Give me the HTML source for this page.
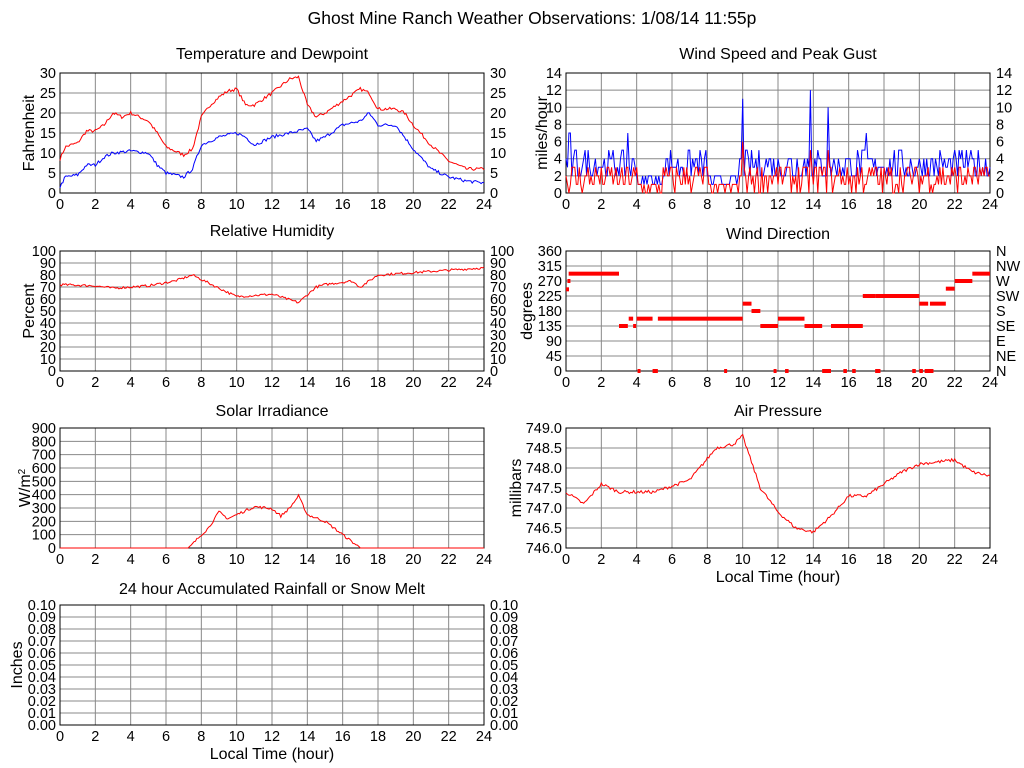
<!DOCTYPE html>
<html><head><meta charset="utf-8"><style>
body{margin:0;background:#fff}
svg{display:block;font-family:"Liberation Sans",sans-serif;font-size:14.5px}
.b{font-size:16px}
</style></head><body>
<svg id="s" width="1024" height="768" xmlns="http://www.w3.org/2000/svg">
<rect width="1024" height="768" fill="#fff"/>
<g id="g"></g>
<g fill="#000" class="b">
<text x="532" y="24" text-anchor="middle" font-size="17.5">Ghost Mine Ranch Weather Observations: 1/08/14 11:55p</text>
<text x="272" y="59" text-anchor="middle">Temperature and Dewpoint</text>
<text x="778" y="59" text-anchor="middle">Wind Speed and Peak Gust</text>
<text x="272" y="236" text-anchor="middle">Relative Humidity</text>
<text x="778" y="239" text-anchor="middle">Wind Direction</text>
<text x="272" y="416" text-anchor="middle">Solar Irradiance</text>
<text x="778" y="416" text-anchor="middle">Air Pressure</text>
<text x="272" y="594" text-anchor="middle">24 hour Accumulated Rainfall or Snow Melt</text>
<text x="778" y="582" text-anchor="middle">Local Time (hour)</text>
<text x="272" y="759" text-anchor="middle">Local Time (hour)</text>
<text transform="translate(34,133) rotate(-90)" text-anchor="middle">Fahrenheit</text>
<text transform="translate(547,133) rotate(-90)" text-anchor="middle">miles/hour</text>
<text transform="translate(34,311) rotate(-90)" text-anchor="middle">Percent</text>
<text transform="translate(532,311) rotate(-90)" text-anchor="middle">degrees</text>
<text transform="translate(30,488) rotate(-90)" text-anchor="middle">W/m<tspan font-size="10" dy="-5">2</tspan></text>
<text transform="translate(521,488) rotate(-90)" text-anchor="middle">millibars</text>
<text transform="translate(22,665) rotate(-90)" text-anchor="middle">Inches</text>
</g>
<g id="t" fill="#000"></g>
</svg>
<script>
var NS="http://www.w3.org/2000/svg",G=document.getElementById('g'),T=document.getElementById('t');
function el(tag,a,p){var e=document.createElementNS(NS,tag);for(var k in a)e.setAttribute(k,a[k]);(p||G).appendChild(e);return e;}
var seed=7;function rnd(){seed=(seed*16807)%2147483647;return seed/2147483647;}
function panel(x0,y0,ny,xl,labsL,labsR){
 var x1=x0+424,y1=y0+120;
 for(var i=1;i<12;i++){var x=x0+i*424/12;el('line',{x1:x,y1:y0,x2:x,y2:y1,stroke:'#888'});}
 for(var j=1;j<ny;j++){var y=y0+j*120/ny;el('line',{x1:x0,y1:y,x2:x1,y2:y,stroke:'#888'});}
 el('rect',{x:x0,y:y0,width:424,height:120,fill:'none',stroke:'#000'});
 for(var i=0;i<=12;i++){var t=el('text',{x:x0+i*424/12,y:y1+16,'text-anchor':'middle'},T);t.textContent=2*i;}
 for(var j=0;j<=ny;j++){var y=y1-j*120/ny+5;
  if(labsL){var t=el('text',{x:x0-4,y:y,'text-anchor':'end'},T);t.textContent=labsL[j];}
  if(labsR){var t=el('text',{x:x1+6,y:y},T);t.textContent=labsR[j];}}
}
function seq(n,f){var a=[];for(var i=0;i<=n;i++)a.push(f(i));return a;}
var tl=seq(6,function(i){return 5*i}),hl=seq(10,function(i){return 10*i}),sl=seq(9,function(i){return 100*i}),
 wl=seq(7,function(i){return 2*i}),dl=seq(8,function(i){return 45*i}),pl=seq(6,function(i){return (746+0.5*i).toFixed(1)}),
 rl=seq(10,function(i){return (0.01*i).toFixed(2)});
panel(60,73,6,0,tl,tl);panel(566,73,7,0,wl,wl);
panel(60,251,10,0,hl,hl);panel(566,251,8,0,dl,['N','NE','E','SE','S','SW','W','NW','N']);
panel(60,428,9,0,sl,null);panel(566,428,6,0,pl,null);
panel(60,605,10,0,rl,rl);
function interp(k,h){for(var i=1;i<k.length;i++)if(h<=k[i][0]){var a=k[i-1],b=k[i];return a[1]+(b[1]-a[1])*(h-a[0])/(b[0]-a[0]);}return k[k.length-1][1];}
function series(k,x0,y0,min,max,col,noise,clip){var pts=[];for(var i=0;i<=288;i++){var h=i/12,b=interp(k,h),v=b+(clip&&b<=0?0:(rnd()-0.5)*noise);if(clip)v=Math.max(v,min);
 pts.push((x0+h*424/24).toFixed(1)+','+(y0+120-(v-min)/(max-min)*120).toFixed(1));}
 el('polyline',{points:pts.join(' '),fill:'none',stroke:col,'stroke-width':1});}
series([[0,8.5],[0.3,11.5],[0.6,12],[1,12.5],[1.5,15.5],[2,15.5],[2.5,17],[3,20],[3.5,19],[4,20],[4.5,19],[5,18],[5.5,15],[6,11.5],[6.5,10.5],[7,9.5],[7.5,11],[8,19],[8.5,22],[9,24],[9.5,25.5],[10,26],[10.5,22],[11,22],[12,25],[13,28.5],[13.5,29],[14,22],[14.5,19],[15,20],[16,23],[17,26],[17.5,25],[18,21],[19,21],[19.5,20],[20,17],[21,12],[22,8],[23,6],[24,6]],60,73,0,30,'red',0.8);
series([[0,1.5],[0.3,4],[1,4.5],[1.5,7],[2,7],[2.5,9],[3,10],[4,10.5],[5,10],[5.5,7],[6,5],[7,4],[7.5,6],[8,12],[9,14],[10,15],[10.5,14],[11,12],[12,14],[13,15],[14,16],[14.5,13],[15,14],[16,17],[17,18],[17.5,20],[18,17],[19,17],[20,11],[21,6],[22,4],[23,3],[24,2.5]],60,73,0,30,'blue',0.8);
series([[0,72],[2,71],[3,69],[5,71],[6.5,75],[7.5,80],[9,69],[10,62],[12,64],[13.5,57],[14.5,70],[15,72],[16.5,75],[17,70],[18,80],[20,82],[22,84],[24,86]],60,251,0,100,'red',2);
series([[0,0],[7.3,0],[8,100],[8.4,150],[9,270],[9.5,220],[10.5,280],[11,310],[12,295],[12.5,240],[13,300],[13.5,390],[14,250],[15,200],[16,100],[16.5,50],[17,0],[24,0]],60,428,0,900,'red',20,1);
series([[0,747.4],[1,747.1],[2,747.6],[3,747.4],[5,747.4],[7,747.7],[8.5,748.5],[9.5,748.6],[10,748.8],[11,747.5],[12,746.9],[13,746.5],[14,746.4],[15,746.8],[16,747.3],[17,747.3],[18,747.6],[19,747.9],[20,748.1],[22,748.2],[23,747.9],[24,747.8]],566,428,746,749,'red',0.08);
function wind(col,base,amp,spk){var pts=[];for(var i=0;i<=288;i++){var h=i/12,q=(h>4&&h<5.5)||(h>8&&h<9.8)?0.4:1;var v=Math.round(base*q+rnd()*amp*q);
 for(var s=0;s<spk.length;s++)if(Math.abs(h-spk[s][0])<0.05)v=spk[s][1];
 pts.push((566+h*424/24).toFixed(1)+','+(193-Math.max(0,v)/14*120).toFixed(1));}
 el('polyline',{points:pts.join(' '),fill:'none',stroke:col});}
wind('blue',1.5,3.5,[[10,11],[13.8,12],[14.8,10],[3.5,7],[17,7],[0.2,7]]);
wind('red',0,3.5,[[10,6],[13.8,5],[14.8,5]]);
var seg=[[0,0.08,245],[0.08,0.15,270],[0.15,3,292],[3,3.5,135],[3.55,3.8,157],[3.8,3.95,135],[4,4.9,157],[5.2,10,157],[4.05,4.15,0],[4.9,5.2,0],[10,10.5,202],[10.5,11,180],[11,12,135],[12,13.5,157],[13.5,14.5,135],[14.5,15,0],[15,16.8,135],[16.8,17.5,225],[17.5,20,225],[20,20.5,202],[20.6,21.5,202],[21.5,22,247],[22,23,270],[23,24,292],[8.95,9.05,0],[11.75,11.85,0],[12.4,12.6,0],[15.7,15.9,0],[16.2,16.4,0],[17.5,17.8,0],[19.6,19.8,0],[20,20.2,0],[20.3,20.8,0]];
seg.forEach(function(s){el('rect',{x:566+s[0]*424/24,y:371-s[2]/360*120-2,width:Math.max(3,(s[1]-s[0])*424/24),height:4,fill:'red'});});
</script>
</body></html>
